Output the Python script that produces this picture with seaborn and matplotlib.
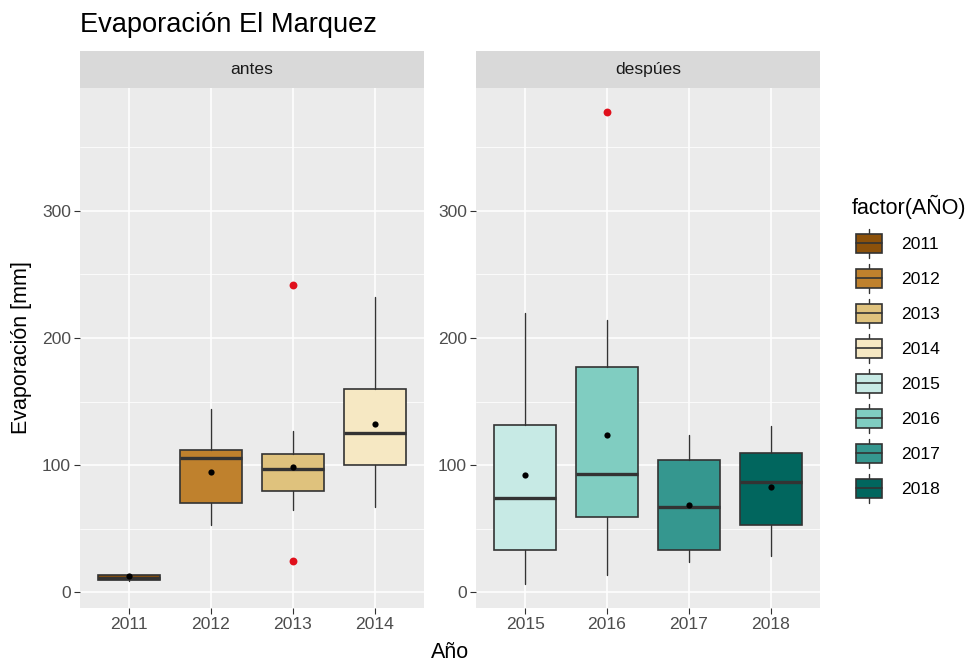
import matplotlib
matplotlib.use("Agg")
import matplotlib.pyplot as plt
import matplotlib.patches as mpatches
import matplotlib.lines as mlines
from matplotlib.legend_handler import HandlerBase
import pandas as pd
import numpy as np
import seaborn as sns

# values
years_before = ["2011", "2012", "2013", "2014"]
years_after = ["2015", "2016", "2017", "2018"]
q1 = [9.5, 70.1, 79.6, 100.1, 33.7, 59.0, 33.7, 52.7]
medians = [11.5, 105.7, 97.2, 125.2, 74.3, 92.8, 66.9, 86.4]
q3 = [14.0, 112.3, 108.8, 160.2, 131.5, 177.3, 103.8, 109.9]
whisk_lo = [9.0, 52.7, 64.8, 66.9, 6.3, 13.7, 23.7, 28.5]
whisk_hi = [14.5, 144.4, 126.7, 232.2, 219.8, 214.0, 123.6, 130.4]
means = [12.5, 94.6, 98.6, 132.0, 92.2, 123.6, 69.0, 82.8]
outliers = {"2013": [24.8, 241.4], "2016": [377.9]}

palette = ["#8C510A", "#BF812D", "#DFC27D", "#F6E8C3",
           "#C7EAE5", "#80CDC1", "#35978F", "#01665E"]

years = years_before + years_after

sns.set_theme(style="darkgrid", rc={
    "axes.facecolor": "#EBEBEB",
    "grid.color": "white",
    "axes.edgecolor": "none",
})
plt.rcParams["font.family"] = ["Liberation Sans", "DejaVu Sans"]

W, H = 975, 662
fig = plt.figure(figsize=(W / 100, H / 100), dpi=100)
fig.patch.set_facecolor("white")

def fx(px):
    return px / W

def fy(px):
    return 1 - px / H

panel_top, panel_bot = 88, 608
panels = [(80, 424, "antes", years_before), (476, 820, "despúes", years_after)]

allvals = whisk_lo + whisk_hi + [v for vs in outliers.values() for v in vs]
lo, hi = min(allvals), max(allvals)
pad = 0.05 * (hi - lo)
ylim = (lo - pad, hi + pad)

tick_fs = 12.6
for left, right, name, yrs in panels:
    ax = fig.add_axes([fx(left), fy(panel_bot), fx(right - left), (panel_bot - panel_top) / H])
    idx = [years.index(y) for y in yrs]
    pos = np.arange(1, len(yrs) + 1)
    stats = []
    for i in idx:
        stats.append(dict(med=medians[i], q1=q1[i], q3=q3[i],
                          whislo=whisk_lo[i], whishi=whisk_hi[i], fliers=[]))
    bp = ax.bxp(stats, positions=pos, widths=0.75, patch_artist=True,
                showfliers=False, showcaps=False,
                boxprops=dict(edgecolor="#333333", linewidth=1.2),
                medianprops=dict(color="#333333", linewidth=2.4),
                whiskerprops=dict(color="#333333", linewidth=1.0))
    for patch, i in zip(bp["boxes"], idx):
        patch.set_facecolor(palette[i])
        patch.set_zorder(3)
    for l in bp["medians"] + bp["whiskers"]:
        l.set_zorder(3.5)

    # outliers (red) and means (black)
    out_df = pd.DataFrame([(p, v) for p, y in zip(pos, yrs) for v in outliers.get(y, [])],
                          columns=["x", "y"])
    if len(out_df):
        sns.scatterplot(data=out_df, x="x", y="y", ax=ax, color="#E0101C",
                        s=32, linewidth=0, zorder=5)
    mean_df = pd.DataFrame({"x": pos, "y": [means[i] for i in idx]})
    sns.scatterplot(data=mean_df, x="x", y="y", ax=ax, color="black",
                    s=20, linewidth=0, zorder=6)

    ax.set_xlim(0.4, len(yrs) + 0.6)
    ax.set_ylim(*ylim)
    ax.set_xticks(pos)
    ax.set_xticklabels(yrs)
    ax.set_yticks([0, 100, 200, 300])
    ax.set_yticks([50, 150, 250, 350], minor=True)
    ax.grid(which="major", color="white", linewidth=1.1)
    ax.grid(which="minor", axis="y", color="white", linewidth=0.55)
    ax.set_axisbelow(True)
    ax.set_xlabel("")
    ax.set_ylabel("")
    ax.tick_params(axis="both", which="major", length=4, width=0.8, color="#333333",
                   labelsize=tick_fs, labelcolor="#4D4D4D", pad=2.5,
                   bottom=True, left=True)
    ax.tick_params(axis="y", which="minor", length=0)
    for s in ax.spines.values():
        s.set_visible(False)

    # facet strip
    sax = fig.add_axes([fx(left), fy(panel_top), fx(right - left), (panel_top - 51) / H])
    sax.set_facecolor("#D9D9D9")
    sax.set_xticks([])
    sax.set_yticks([])
    sax.grid(False)
    for s in sax.spines.values():
        s.set_visible(False)
    sax.text(0.5, 0.5, name, ha="center", va="center", fontsize=tick_fs,
             color="#1A1A1A", transform=sax.transAxes)

fig.text(fx(80), fy(25), "Evaporación El Marquez", ha="left", va="center",
         fontsize=19.6, color="black")
fig.text(fx(450), fy(652), "Año", ha="center", va="center", fontsize=15.5, color="black")
fig.text(fx(22), fy(348), "Evaporación [mm]", ha="center", va="center",
         rotation=90, fontsize=15.5, color="black")


class BoxKey(HandlerBase):
    def create_artists(self, legend, orig_handle, xdescent, ydescent,
                       width, height, fontsize, trans):
        x0, y0 = -xdescent, -ydescent
        cx = x0 + width / 2
        whisk = mlines.Line2D([cx, cx], [y0 + 0.08 * height, y0 + 0.92 * height],
                              color="#333333", linewidth=1.0, transform=trans)
        box = mpatches.Rectangle((x0 + 0.12 * width, y0 + 0.23 * height), 0.76 * width,
                                 0.54 * height, facecolor=orig_handle.get_facecolor(),
                                 edgecolor="#333333", linewidth=1.2, transform=trans)
        med = mlines.Line2D([x0 + 0.12 * width, x0 + 0.88 * width], [y0 + height / 2] * 2,
                            color="#333333", linewidth=1.2, transform=trans)
        return [whisk, box, med]


# legend title placed separately so the gap to the first key matches
fig.text(fx(852), fy(207), "factor(AÑO)", ha="left", va="center",
         fontsize=15.5, color="black")
handles = [mpatches.Patch(facecolor=c) for c in palette]
leg = fig.legend(handles, years, loc="upper left",
                 bbox_to_anchor=(fx(852), fy(226)), frameon=False,
                 handler_map={mpatches.Patch: BoxKey()},
                 fontsize=tick_fs,
                 handlelength=1.98, handleheight=2.7, labelspacing=0.0,
                 handletextpad=0.82, borderpad=0, borderaxespad=0)
for t in leg.get_texts():
    t.set_color("black")

fig.savefig("out.png", dpi=100)
